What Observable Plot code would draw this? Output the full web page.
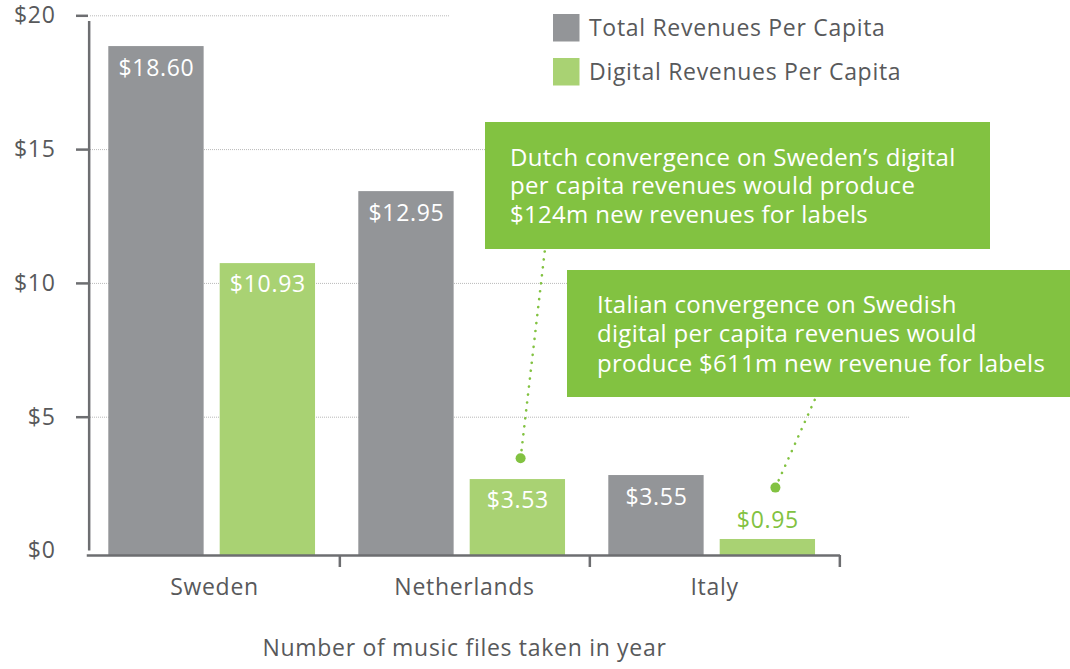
<!DOCTYPE html>
<html>
<head>
<meta charset="utf-8">
<script src="https://cdn.jsdelivr.net/npm/d3@7"></script>
<script src="https://cdn.jsdelivr.net/npm/@observablehq/plot@0.6"></script>
<style>
  html, body { margin: 0; padding: 0; background: #ffffff; }
  #chart { width: 1070px; height: 669px; }
</style>
</head>
<body>
<div id="chart"></div>
<script>
// ---------- data ----------
const countries = ["Sweden", "Netherlands", "Italy"];
const seriesNames = ["Total Revenues Per Capita", "Digital Revenues Per Capita"];
const totalValues = [18.85, 13.43, 2.82];
const digitalValues = [10.74, 2.67, 0.43];
const totalLabels = ["$18.60", "$12.95", "$3.55"];
const digitalLabels = ["$10.93", "$3.53", "$0.95"];
const yTicks = [0, 5, 10, 15, 20];
const xTitle = "Number of music files taken in year";
const annotationTexts = [
  ["Dutch convergence on Sweden\u2019s digital", "per capita revenues would produce", "$124m new revenues for labels"],
  ["Italian convergence on Swedish", "digital per capita revenues would", "produce $611m new revenue for labels"]
];
const annotationCountries = ["Netherlands", "Italy"];
const annotationValues = [3.45, 2.35];

// ---------- styles / layout ----------
const FONT = "'Open Sans', 'Noto Sans', sans-serif";
const GRAY = "#939598", LIGHTGREEN = "#a9d273", GREEN = "#82c241";
const AXIS = "#6d6e71", TEXT = "#58595b", GRID = "#b9b9b9";
const W = 1070, H = 669, mL = 88, mR = 230, mT = 15.3, mB = 118.5;
const bw = (W - mL - mR) / countries.length;
const barW = 96, totalOff = 19.3, digitalOff = 130.7;
const FS = 23, FSV = 23, FSA = 24;

const totalData = countries.map((c, i) => ({country: c, value: totalValues[i], label: totalLabels[i]}));
const digitalData = countries.map((c, i) => ({country: c, value: digitalValues[i], label: digitalLabels[i]}));

const plot = Plot.plot({
  width: W, height: H,
  marginLeft: mL, marginRight: mR, marginTop: mT, marginBottom: mB,
  style: {fontFamily: FONT, background: "#ffffff", overflow: "visible", letterSpacing: "0.7px"},
  x: {domain: countries, padding: 0},
  y: {domain: [0, 20]},
  marks: [
    Plot.ruleY(yTicks.filter(v => v > 0 && v < 20), {stroke: GRID, strokeWidth: 1, strokeDasharray: "1,1", insetLeft: 2, insetRight: -70}),
    Plot.ruleY(yTicks.filter(v => v === 20), {stroke: GRID, strokeWidth: 1, strokeDasharray: "1,1", insetLeft: 2, insetRight: 391}),
    Plot.barY(totalData, {x: "country", y: "value", fill: GRAY, insetLeft: totalOff, insetRight: bw - totalOff - barW, insetBottom: -4.5}),
    Plot.barY(digitalData, {x: "country", y: "value", fill: LIGHTGREEN, insetLeft: digitalOff, insetRight: bw - digitalOff - barW, insetBottom: -4.5}),
    Plot.ruleY([0], {stroke: AXIS, strokeWidth: 2.5, dy: 4.5, insetLeft: -1.25}),
    Plot.ruleX([countries[0]], {dx: -bw / 2, y1: 0, y2: 20, stroke: AXIS, strokeWidth: 2.5, insetBottom: -5.75}),
    Plot.axisY({ticks: yTicks.filter(v => v > 0), tickSize: 12, tickFormat: () => "", stroke: AXIS, strokeWidth: 2.5, label: null}),
    Plot.axisY({ticks: yTicks, tickSize: 0, tickPadding: 33, tickFormat: d => "$" + d, fontSize: FS, fill: TEXT, label: null}),
    Plot.axisX({tickSize: 12, dx: bw / 2, dy: 4.5, tickFormat: () => "", stroke: AXIS, strokeWidth: 2.5, label: null}),
    Plot.axisX({tickSize: 0, tickPadding: 27.5, fontSize: FS, fill: TEXT, label: null}),
    Plot.text([xTitle], {frameAnchor: "bottom", dy: 104.5, fontSize: FS, fill: TEXT}),
    Plot.text(totalData, {x: "country", y: "value", text: "label", dx: totalOff + barW / 2 - bw / 2, dy: 22, fill: "white", fontSize: FSV}),
    Plot.text(digitalData.filter(d => d.value >= 1), {x: "country", y: "value", text: "label", dx: digitalOff + barW / 2 - bw / 2, dy: 21, fill: "white", fontSize: FSV}),
    Plot.text(digitalData.filter(d => d.value < 1), {x: "country", y: "value", text: "label", dx: digitalOff + barW / 2 - bw / 2, dy: -19, fill: GREEN, fontSize: FSV})
  ]
});

document.getElementById("chart").appendChild(plot);

// ---------- annotations & legend (placed with the plot's scales) ----------
const xs = plot.scale("x"), ys = plot.scale("y");
const svg = d3.select(plot);

const annLayout = [
  {dotDx: 181.6, box: {x: 485, y: 122, w: 505, h: 127}, text: {x: 510, y: 165.5, lh: 28.7}, end: {x: 545, y: 249}},
  {dotDx: 186.4, box: {x: 567, y: 270, w: 505, h: 127}, text: {x: 597, y: 312.5, lh: 29.5}, end: {x: 816, y: 397}}
];

annLayout.forEach((a, i) => {
  const px = xs.apply(annotationCountries[i]) + a.dotDx;
  const py = ys.apply(annotationValues[i]);
  svg.append("line")
    .attr("x1", px).attr("y1", py).attr("x2", a.end.x).attr("y2", a.end.y)
    .attr("stroke", GREEN).attr("stroke-width", 2.6)
    .attr("stroke-linecap", "round").attr("stroke-dasharray", "0.1 7.9");
  svg.append("circle").attr("cx", px).attr("cy", py).attr("r", 5).attr("fill", GREEN);
});

annLayout.forEach((a, i) => {
  svg.append("rect").attr("x", a.box.x).attr("y", a.box.y)
    .attr("width", a.box.w).attr("height", a.box.h).attr("fill", GREEN);
  const t = svg.append("text").attr("font-family", FONT).attr("font-size", FSA)
    .attr("fill", "white").attr("text-anchor", "start").attr("letter-spacing", "0.3px");
  annotationTexts[i].forEach((line, j) => {
    t.append("tspan").attr("x", a.text.x).attr("y", a.text.y + j * a.text.lh).text(line);
  });
});

const legendLayout = {x: 553, y: 14, size: 27.5, gap: 44, tx: 589};
[GRAY, LIGHTGREEN].forEach((c, i) => {
  svg.append("rect").attr("x", legendLayout.x).attr("y", legendLayout.y + i * legendLayout.gap)
    .attr("width", 26.5).attr("height", legendLayout.size).attr("fill", c);
  svg.append("text").attr("x", legendLayout.tx).attr("y", legendLayout.y + i * legendLayout.gap + legendLayout.size / 2)
    .attr("dy", "0.35em").attr("font-family", FONT).attr("font-size", FS).attr("fill", TEXT)
    .attr("text-anchor", "start").text(seriesNames[i]);
});
</script>
</body>
</html>
